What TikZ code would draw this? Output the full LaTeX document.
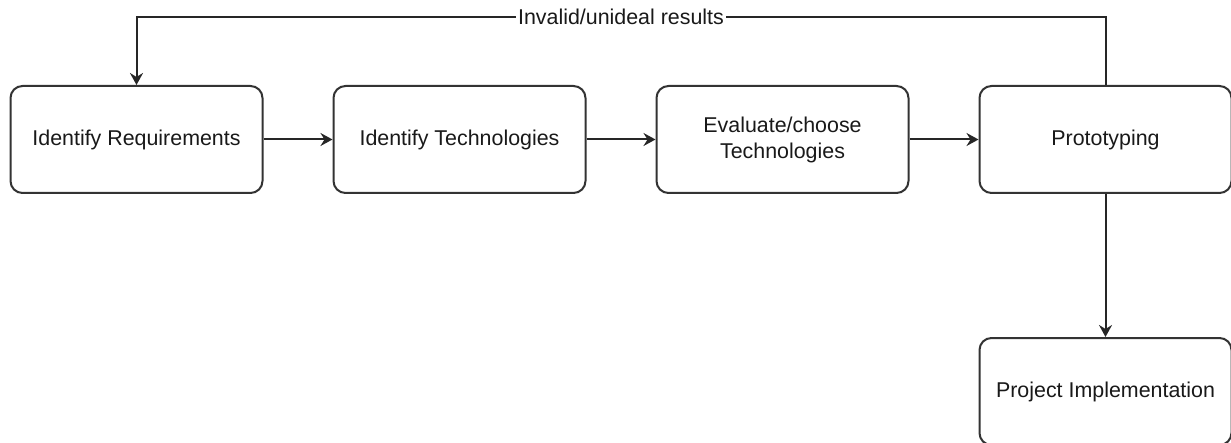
\documentclass[tikz,border=0pt]{standalone}
\usepackage{fontspec}
\setmainfont{Liberation Sans}
\usetikzlibrary{positioning,arrows.meta}
\tikzstyle{every node}=[font=\fontsize{10.7}{13}\selectfont,text=black!90]
\tikzstyle{stage}=[draw=black!80,line width=1pt,rounded corners=6pt,minimum width=126pt,minimum height=53.5pt,align=center,fill=white]
\tikzstyle{flow}=[draw=black!85,line width=1pt,-{Stealth[length=6pt,width=6.5pt,inset=2pt]}]
\tikzstyle{loopnote}=[fill=white,inner sep=1pt]

\begin{document}
\begin{tikzpicture}[x=0.5pt,y=-0.5pt,node distance=34.5pt]
    \useasboundingbox (0,0) rectangle (1231,443);
    \node[stage] (req) at (136.5,139.5) {Identify Requirements};
    \node[stage,right=of req] (tech) {Identify Technologies};
    \node[stage,right=of tech] (eval) {Evaluate/choose\\Technologies};
    \node[stage,right=of eval] (proto) {Prototyping};
    \node[stage,below=71.5pt of proto] (impl) {Project Implementation};
    \coordinate (top) at (0,17);
    \draw[flow] (req) -- (tech);
    \draw[flow] (tech) -- (eval);
    \draw[flow] (eval) -- (proto);
    \draw[flow] (proto) -- (impl);
    \draw[flow] (proto.north) -- (proto.north |- top)
        -- node[loopnote] {Invalid/unideal results} (req.north |- top) -- (req.north);
\end{tikzpicture}
\end{document}
